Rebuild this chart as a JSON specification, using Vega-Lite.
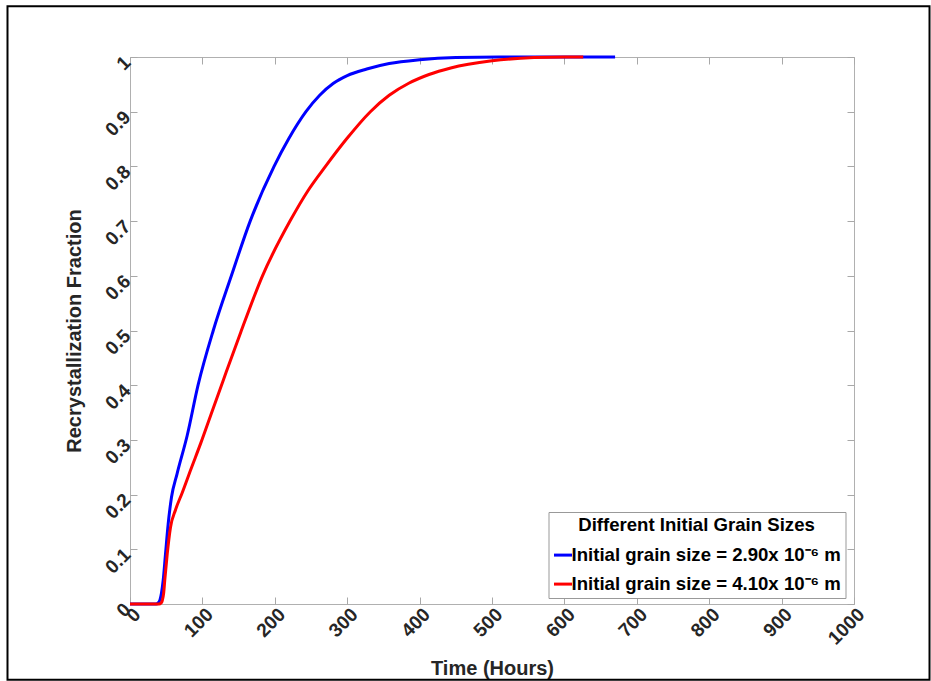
{
  "$schema": "https://vega.github.io/schema/vega-lite/v6.json",
  "width": 724,
  "height": 547,
  "padding": {"left": 6, "top": 5, "right": 0, "bottom": 0},
  "background": "white",
  "config": {
    "font": "Liberation Sans",
    "view": {"stroke": "#b0b0b0", "strokeWidth": 1},
    "axis": {
      "domain": false,
      "gridColor": "#ebebeb",
      "gridWidth": 1,
      "tickColor": "#a8a8a8",
      "tickSize": -7,
      "labelFont": "Liberation Sans",
      "labelFontSize": 19,
      "labelFontWeight": "bold",
      "labelColor": "#262626",
      "titleFont": "Liberation Sans",
      "titleFontSize": 20,
      "titleFontWeight": "bold",
      "titleColor": "#262626"
    }
  },
  "layer": [
    {
      "data": {"values": [{"k": 1}]},
      "mark": {"type": "rect", "fill": null, "stroke": "#000000", "strokeWidth": 2, "clip": false},
      "encoding": {
        "x": {"datum": -169.2, "type": "quantitative", "scale": {"domain": [0, 1000], "nice": false, "zero": false},
          "axis": {"orient": "top", "labels": false, "title": null, "grid": false, "values": [0,100,200,300,400,500,600,700,800,900,1000]}},
        "x2": {"datum": 1104.3},
        "y": {"datum": 1.0927, "type": "quantitative", "scale": {"domain": [0, 1], "nice": false, "zero": false},
          "axis": {"orient": "right", "labels": false, "title": null, "grid": false, "values": [0,0.1,0.2,0.3,0.4,0.5,0.6,0.7,0.8,0.9,1]}},
        "y2": {"datum": -0.1384}
      }
    },
    {
      "data": {"values": [
        {"t": 0, "f": 0, "s": "Initial grain size = 2.90x 10⁻⁶ m"},
        {"t": 36, "f": 0, "s": "Initial grain size = 2.90x 10⁻⁶ m"},
        {"t": 39, "f": 0.002, "s": "Initial grain size = 2.90x 10⁻⁶ m"},
        {"t": 41.5, "f": 0.008, "s": "Initial grain size = 2.90x 10⁻⁶ m"},
        {"t": 43.5, "f": 0.02, "s": "Initial grain size = 2.90x 10⁻⁶ m"},
        {"t": 45.8, "f": 0.043, "s": "Initial grain size = 2.90x 10⁻⁶ m"},
        {"t": 49, "f": 0.091, "s": "Initial grain size = 2.90x 10⁻⁶ m"},
        {"t": 52.7, "f": 0.146, "s": "Initial grain size = 2.90x 10⁻⁶ m"},
        {"t": 57.3, "f": 0.195, "s": "Initial grain size = 2.90x 10⁻⁶ m"},
        {"t": 65, "f": 0.238, "s": "Initial grain size = 2.90x 10⁻⁶ m"},
        {"t": 79, "f": 0.308, "s": "Initial grain size = 2.90x 10⁻⁶ m"},
        {"t": 94, "f": 0.4, "s": "Initial grain size = 2.90x 10⁻⁶ m"},
        {"t": 115, "f": 0.5, "s": "Initial grain size = 2.90x 10⁻⁶ m"},
        {"t": 140, "f": 0.6, "s": "Initial grain size = 2.90x 10⁻⁶ m"},
        {"t": 166, "f": 0.7, "s": "Initial grain size = 2.90x 10⁻⁶ m"},
        {"t": 199, "f": 0.8, "s": "Initial grain size = 2.90x 10⁻⁶ m"},
        {"t": 219, "f": 0.85, "s": "Initial grain size = 2.90x 10⁻⁶ m"},
        {"t": 243, "f": 0.9, "s": "Initial grain size = 2.90x 10⁻⁶ m"},
        {"t": 262, "f": 0.93, "s": "Initial grain size = 2.90x 10⁻⁶ m"},
        {"t": 281, "f": 0.952, "s": "Initial grain size = 2.90x 10⁻⁶ m"},
        {"t": 300, "f": 0.966, "s": "Initial grain size = 2.90x 10⁻⁶ m"},
        {"t": 327, "f": 0.978, "s": "Initial grain size = 2.90x 10⁻⁶ m"},
        {"t": 358, "f": 0.988, "s": "Initial grain size = 2.90x 10⁻⁶ m"},
        {"t": 400, "f": 0.995, "s": "Initial grain size = 2.90x 10⁻⁶ m"},
        {"t": 450, "f": 0.999, "s": "Initial grain size = 2.90x 10⁻⁶ m"},
        {"t": 510, "f": 1, "s": "Initial grain size = 2.90x 10⁻⁶ m"},
        {"t": 670, "f": 1, "s": "Initial grain size = 2.90x 10⁻⁶ m"},
        {"t": 0, "f": 0, "s": "Initial grain size = 4.10x 10⁻⁶ m"},
        {"t": 40, "f": 0, "s": "Initial grain size = 4.10x 10⁻⁶ m"},
        {"t": 43, "f": 0.002, "s": "Initial grain size = 4.10x 10⁻⁶ m"},
        {"t": 44.5, "f": 0.006, "s": "Initial grain size = 4.10x 10⁻⁶ m"},
        {"t": 46.5, "f": 0.02, "s": "Initial grain size = 4.10x 10⁻⁶ m"},
        {"t": 48, "f": 0.043, "s": "Initial grain size = 4.10x 10⁻⁶ m"},
        {"t": 51.4, "f": 0.091, "s": "Initial grain size = 4.10x 10⁻⁶ m"},
        {"t": 55.9, "f": 0.14, "s": "Initial grain size = 4.10x 10⁻⁶ m"},
        {"t": 62.8, "f": 0.172, "s": "Initial grain size = 4.10x 10⁻⁶ m"},
        {"t": 72, "f": 0.203, "s": "Initial grain size = 4.10x 10⁻⁶ m"},
        {"t": 84, "f": 0.246, "s": "Initial grain size = 4.10x 10⁻⁶ m"},
        {"t": 98, "f": 0.295, "s": "Initial grain size = 4.10x 10⁻⁶ m"},
        {"t": 112, "f": 0.347, "s": "Initial grain size = 4.10x 10⁻⁶ m"},
        {"t": 128, "f": 0.406, "s": "Initial grain size = 4.10x 10⁻⁶ m"},
        {"t": 153, "f": 0.497, "s": "Initial grain size = 4.10x 10⁻⁶ m"},
        {"t": 183, "f": 0.6, "s": "Initial grain size = 4.10x 10⁻⁶ m"},
        {"t": 221, "f": 0.7, "s": "Initial grain size = 4.10x 10⁻⁶ m"},
        {"t": 246, "f": 0.756, "s": "Initial grain size = 4.10x 10⁻⁶ m"},
        {"t": 270, "f": 0.8, "s": "Initial grain size = 4.10x 10⁻⁶ m"},
        {"t": 299, "f": 0.85, "s": "Initial grain size = 4.10x 10⁻⁶ m"},
        {"t": 332, "f": 0.9, "s": "Initial grain size = 4.10x 10⁻⁶ m"},
        {"t": 358, "f": 0.93, "s": "Initial grain size = 4.10x 10⁻⁶ m"},
        {"t": 385, "f": 0.952, "s": "Initial grain size = 4.10x 10⁻⁶ m"},
        {"t": 413, "f": 0.968, "s": "Initial grain size = 4.10x 10⁻⁶ m"},
        {"t": 443, "f": 0.98, "s": "Initial grain size = 4.10x 10⁻⁶ m"},
        {"t": 500, "f": 0.993, "s": "Initial grain size = 4.10x 10⁻⁶ m"},
        {"t": 558, "f": 0.999, "s": "Initial grain size = 4.10x 10⁻⁶ m"},
        {"t": 600, "f": 1, "s": "Initial grain size = 4.10x 10⁻⁶ m"},
        {"t": 626, "f": 1, "s": "Initial grain size = 4.10x 10⁻⁶ m"}
      ]},
      "mark": {"type": "line", "strokeWidth": 3, "interpolate": "monotone", "clip": false},
      "encoding": {
        "x": {"field": "t", "type": "quantitative", "scale": {"domain": [0, 1000], "nice": false, "zero": false},
          "axis": {"orient": "bottom", "title": "Time (Hours)", "values": [0,100,200,300,400,500,600,700,800,900,1000], "format": "d",
            "labelAngle": -45, "labelAlign": "right", "labelBaseline": "middle", "labelPadding": 14, "labelOffset": 7, "titlePadding": 11}},
        "y": {"field": "f", "type": "quantitative", "scale": {"domain": [0, 1], "nice": false, "zero": false},
          "axis": {"orient": "left", "title": "Recrystallization Fraction", "values": [0,0.1,0.2,0.3,0.4,0.5,0.6,0.7,0.8,0.9,1],
            "format": "~g", "labelAngle": -45, "labelAlign": "right", "labelBaseline": "middle", "labelPadding": 10, "labelOffset": 2, "titlePadding": 17}},
        "color": {"field": "s", "type": "nominal",
          "scale": {"domain": ["Initial grain size = 2.90x 10⁻⁶ m", "Initial grain size = 4.10x 10⁻⁶ m"], "range": ["#0000ff", "#ff0000"]},
          "legend": {
            "title": "Different Initial Grain Sizes",
            "orient": "none", "legendX": 418.5, "legendY": 455,
            "direction": "vertical",
            "strokeColor": "#999999", "fillColor": "#ffffff",
            "padding": 4,
            "titleFont": "Liberation Sans", "titleFontSize": 18.6, "titleFontWeight": "bold", "titleColor": "#000000",
            "titleAnchor": "middle", "titleAlign": "center", "titlePadding": 10, "titleLimit": 400,
            "labelFont": "Liberation Sans", "labelFontSize": 18.6, "labelFontWeight": "bold", "labelColor": "#000000",
            "labelLimit": 400, "labelOffset": -2,
            "symbolType": "stroke", "symbolSize": 324, "symbolStrokeWidth": 3,
            "rowPadding": 8
          }
        }
      }
    }
  ],
  "resolve": {"axis": {"x": "independent", "y": "independent"}}
}
